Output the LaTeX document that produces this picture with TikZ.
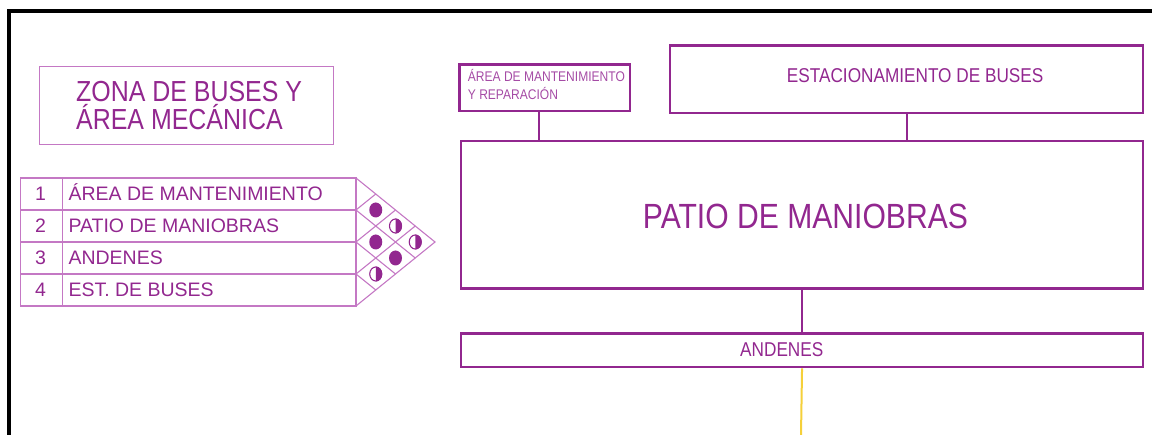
\documentclass[tikz,border=0pt]{standalone}
\usepackage{fontspec}
\setmainfont{Liberation Sans}
\newfontfamily\narrowsans[FakeStretch=0.86]{Liberation Sans}
\definecolor{purp}{RGB}{146,39,143}
\definecolor{lightpurp}{RGB}{196,120,196}
\definecolor{softpurp}{RGB}{165,75,165}
\definecolor{gold}{RGB}{245,208,58}
\tikzset{
  thickbox/.style={draw=purp, line width=2.4pt, rectangle, inner sep=0pt, anchor=north west},
  thinbox/.style={draw=lightpurp, line width=1pt, rectangle, inner sep=0pt, anchor=north west},
  link/.style={draw=purp, line width=2pt},
  tbl/.style={draw=lightpurp, line width=1.1pt},
  lbl/.style={text=purp, inner sep=0pt, anchor=base west},
  fulldot/.style={fill=purp},
}
\begin{document}
\begin{tikzpicture}[x=1pt,y=-1pt]
\useasboundingbox (0,0) rectangle (1152,435);
\clip (0,0) rectangle (1152,435);
% frame
\draw[line width=4pt, black] (8.7,460) -- (8.7,11.3) -- (1180,11.3);

% title
\node[thinbox, minimum width=293.5pt, minimum height=78pt] (title) at (39,66.5) {};
\node[lbl, font=\narrowsans\fontsize{29}{28}\selectfont] (t1) at (76,101.7) {ZONA DE BUSES Y};
\node[lbl, font=\narrowsans\fontsize{29}{28}\selectfont] (t2) at (76,130) {ÁREA MECÁNICA};

% table
\foreach \y in {178,210,242,274} {
  \draw[tbl] (20.7,\y) rectangle (356,\y+32);
  \draw[tbl] (62.7,\y) -- (62.7,\y+32);
}
\draw[tbl] (356,178) -- (435,242) -- (356,306);
\draw[tbl] (375.75,194) -- (356,210) -- (415.25,258);
\draw[tbl] (395.5,210) -- (356,242) -- (395.5,274);
\draw[tbl] (415.25,226) -- (356,274) -- (375.75,290);

\foreach \n/\txt/\b in {1/ÁREA DE MANTENIMIENTO/201, 2/PATIO DE MANIOBRAS/232.5, 3/ANDENES/264.5, 4/EST. DE BUSES/296.5} {
  \node[text=purp, inner sep=0pt, anchor=base, font=\fontsize{19.5}{22}\selectfont] (num\n) at (40.5,\b) {\n};
  \node[lbl, font=\fontsize{19.5}{22}\selectfont] (row\n) at (68.3,\b) {\txt};
}

% circles
\fill[purp] (375.75,210) ellipse[x radius=6.5, y radius=7.5];
\fill[purp] (375.75,242) ellipse[x radius=6.5, y radius=7.5];
\fill[purp] (395.5,258) ellipse[x radius=6.5, y radius=7.5];
\foreach \cx/\cy in {375.75/274, 395.5/226, 415.25/242} {
  \fill[purp] (\cx,\cy) ++(0,-7.5) arc[start angle=-90, end angle=90, x radius=6.5, y radius=7.5] -- cycle;
  \draw[purp, line width=1.1pt] (\cx,\cy) ellipse[x radius=6, y radius=7];
}

% right diagram boxes
\node[thickbox, minimum width=170.7pt, minimum height=46.7pt] (amr) at (458.3,63.3) {};
\node[lbl, text=softpurp, font=\narrowsans\fontsize{14}{16}\selectfont] (amr1) at (467.7,81.7) {ÁREA DE MANTENIMIENTO};
\node[lbl, text=softpurp, font=\narrowsans\fontsize{14}{16}\selectfont] (amr2) at (467.7,100) {Y REPARACIÓN};

\node[thickbox, minimum width=472.7pt, minimum height=67.4pt] (est) at (669,44.3) {};
\node[lbl, font=\narrowsans\fontsize{20}{22}\selectfont] (estt) at (786.7,82.7) {ESTACIONAMIENTO DE BUSES};

\node[thickbox, minimum width=681.7pt, minimum height=147.5pt] (patio) at (460,140) {};
\node[lbl, font=\narrowsans\fontsize{35}{38}\selectfont] (patiot) at (642.7,228.3) {PATIO DE MANIOBRAS};

\node[thickbox, minimum width=681.7pt, minimum height=33.7pt] (and) at (460,332.3) {};
\node[lbl, font=\narrowsans\fontsize{20}{22}\selectfont] (andt) at (740,356.7) {ANDENES};

\coordinate (amrx) at (539,0);
\coordinate (yend) at (800.85,445);

% connectors
\draw[link] (amr.south -| amrx) -- (patio.north -| amrx);
\draw[link] (est.south) -- (est.south |- patio.north);
\draw[link] (patio.south) -- (and.north);
\draw[draw=gold, line width=2pt] (and.south) -- (yend);
\end{tikzpicture}
\end{document}
